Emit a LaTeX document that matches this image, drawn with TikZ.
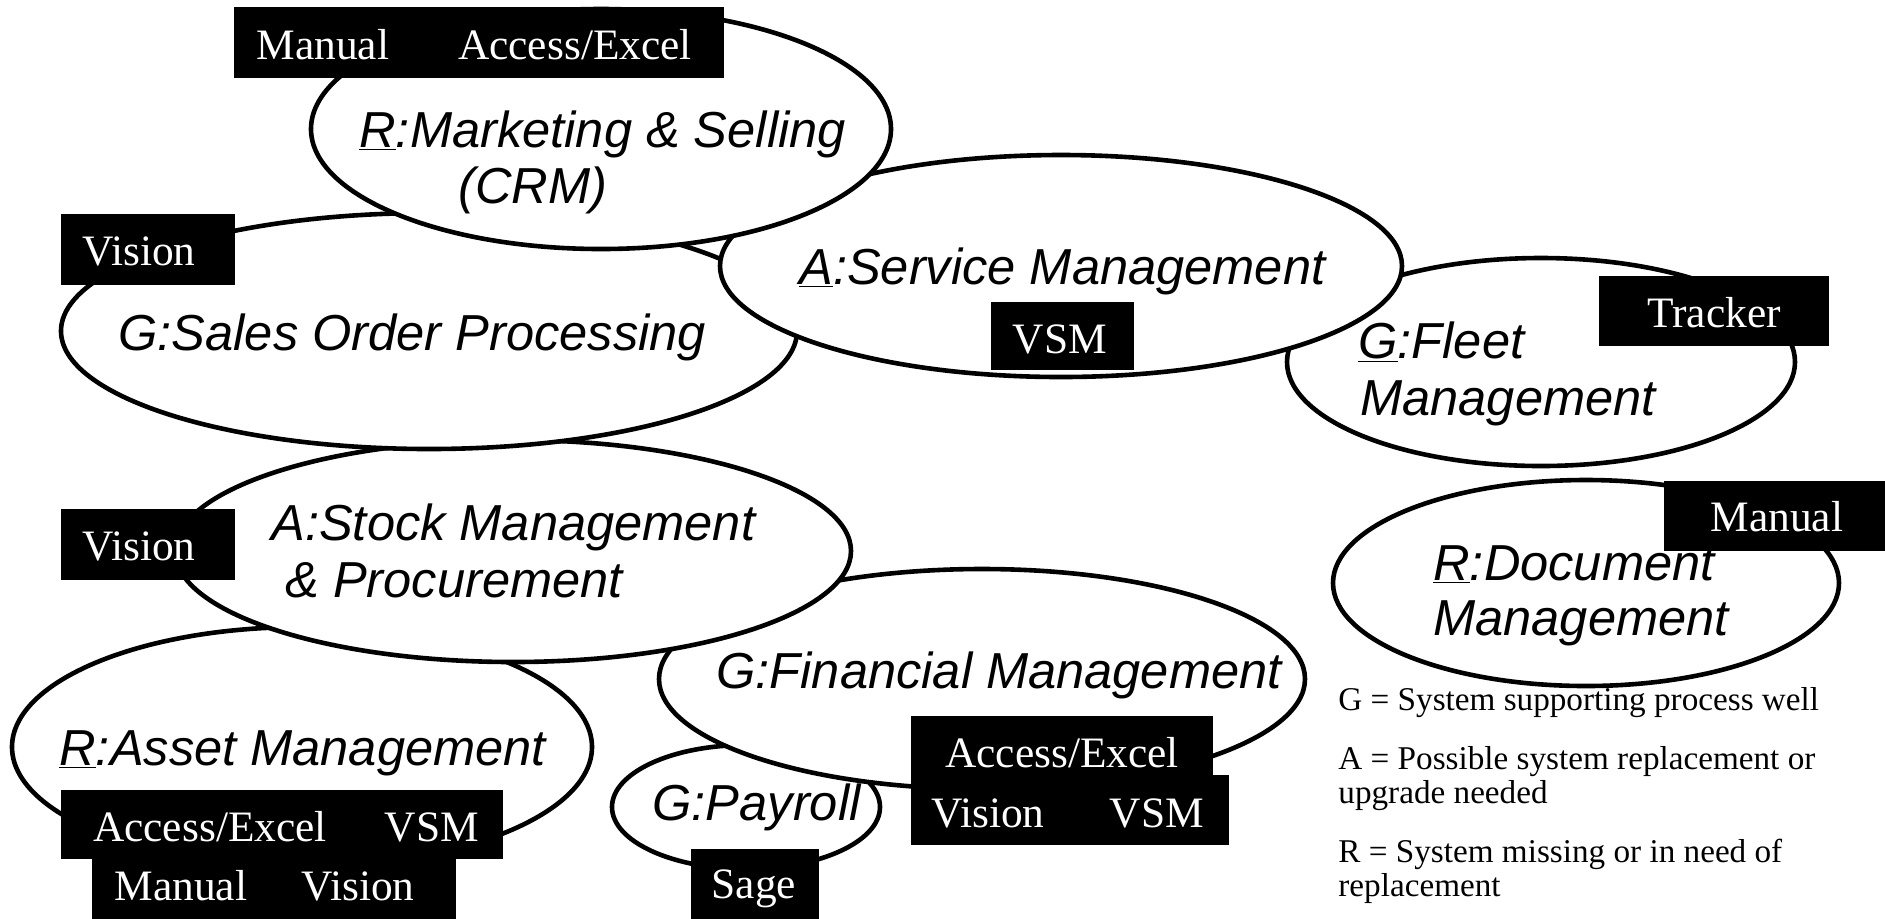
\documentclass[tikz,border=0pt]{standalone}
\usepackage{fontspec}
\setmainfont{Liberation Serif}
\newfontfamily\arialfont{Liberation Sans}
\usetikzlibrary{shapes.geometric}
\begin{document}
\begin{tikzpicture}[x=0.5pt,y=-0.5pt,
 proc/.style={ellipse, draw=black, fill=white, line width=2.3pt, inner sep=0pt, outer sep=0pt},
 lbl/.style={anchor=base west, inner sep=0pt, font=\arialfont\itshape\fontsize{25.3}{29}\selectfont},
 blk/.style={fill=black, draw=none, anchor=north west, inner sep=0pt, outer sep=0pt},
 sys/.style={anchor=base, inner sep=0pt, text=white, font=\fontsize{21.7}{25}\selectfont},
 leg/.style={anchor=base west, inner sep=0pt, font=\fontsize{16.6}{18}\selectfont}]
\useasboundingbox (0,0) rectangle (1885,918);
% ellipses (drawing order matters)
\node[proc, minimum width=254pt, minimum height=104pt] (fleet) at (1541,362) {};
\node[proc, minimum width=134pt, minimum height=62pt] (payroll) at (746,807) {};
\node[proc, minimum width=323pt, minimum height=110pt] (fin) at (982,679) {};
\node[proc, minimum width=290pt, minimum height=120pt] (asset) at (302,747) {};
\node[proc, minimum width=338pt, minimum height=111pt] (stock) at (513,551) {};
\node[proc, minimum width=368pt, minimum height=118pt] (sales) at (429,331) {};
\node[proc, minimum width=341pt, minimum height=111pt] (service) at (1061,266) {};
\node[proc, minimum width=290pt, minimum height=120pt] (mkt) at (601,129) {};
\node[proc, minimum width=253pt, minimum height=103pt] (doc) at (1586,583) {};
% labels
\node[lbl] (mktA) at (359,147) {\underline{R}:Marketing \& Selling};
\node[lbl] (mktB) at (458,203) {(CRM)};
\node[lbl] (salesL) at (118,350) {G:Sales Order Processing};
\node[lbl] (serviceL) at (799,284) {\underline{A}:Service Management};
\node[lbl] (fleetA) at (1358,358) {\underline{G}:Fleet};
\node[lbl] (fleetB) at (1360,415) {Management};
\node[lbl] (docA) at (1433,580) {\underline{R}:Document};
\node[lbl] (docB) at (1433,635) {Management};
\node[lbl] (stockA) at (271,540) {A:Stock Management};
\node[lbl] (stockB) at (285,597) {\& Procurement};
\node[lbl] (assetL) at (59,765) {\underline{R}:Asset Management};
\node[lbl] (finL) at (716,688) {G:Financial Management};
\node[lbl] (payL) at (652,820) {G:Payroll};
% black system boxes
\node[blk, minimum width=245pt, minimum height=35.5pt] (b1) at (234,7) {};
\node[blk, minimum width=87pt, minimum height=35.5pt] (b2) at (61,214) {};
\node[blk, minimum width=71.5pt, minimum height=34pt] (b3) at (991,302) {};
\node[blk, minimum width=115pt, minimum height=35pt] (b4) at (1599,276) {};
\node[blk, minimum width=111pt, minimum height=35pt] (b5) at (1664,481) {};
\node[blk, minimum width=87pt, minimum height=35.5pt] (b6) at (61,509) {};
\node[blk, minimum width=221pt, minimum height=34.5pt] (b7) at (61,790) {};
\node[blk, minimum width=182pt, minimum height=31pt] (b8) at (92,858) {};
\node[blk, minimum width=64pt, minimum height=36pt] (b9) at (691,849) {};
\node[blk, minimum width=151pt, minimum height=30pt] (b10) at (911,716) {};
\node[blk, minimum width=159pt, minimum height=35pt] (b11) at (911,775) {};
% system texts
\node[sys] (s1) at (323,59) {Manual};
\node[sys] (s2) at (575,59) {Access/Excel};
\node[sys] (s3) at (139,265) {Vision};
\node[sys] (s4) at (1060,353) {VSM};
\node[sys] (s5) at (1714,327) {Tracker};
\node[sys] (s6) at (1777,531) {Manual};
\node[sys] (s7) at (139,560) {Vision};
\node[sys] (s8) at (210,841) {Access/Excel};
\node[sys] (s9) at (432,841) {VSM};
\node[sys] (s10) at (181,900) {Manual};
\node[sys] (s11) at (358,900) {Vision};
\node[sys] (s12) at (754,898) {Sage};
\node[sys] (s13) at (1062,767) {Access/Excel};
\node[sys] (s14) at (988,827) {Vision};
\node[sys] (s15) at (1157,827) {VSM};
% legend
\node[leg] (lg1) at (1338,710) {G = System supporting process well};
\node[leg] (lg2) at (1338,769) {A = Possible system replacement or};
\node[leg] (lg3) at (1338,803) {upgrade needed};
\node[leg] (lg4) at (1338,862) {R = System missing or in need of};
\node[leg] (lg5) at (1338,896) {replacement};
\end{tikzpicture}
\end{document}
